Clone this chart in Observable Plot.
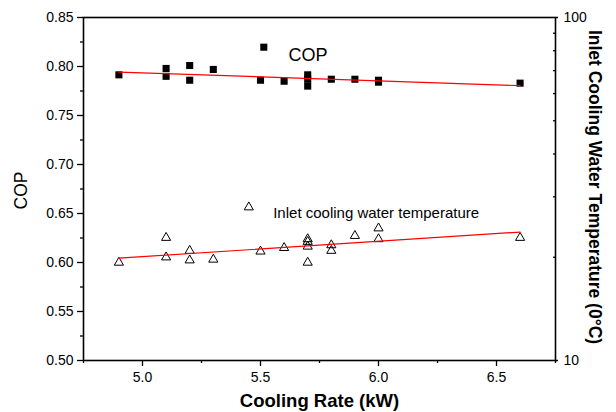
<!DOCTYPE html>
<html><head><meta charset="utf-8">
<script src="https://cdn.jsdelivr.net/npm/d3@7"></script>
<script src="https://cdn.jsdelivr.net/npm/@observablehq/plot@0.6"></script>
<style>body{margin:0;background:#fff} svg{font-family:"Liberation Sans",Arial,sans-serif}</style>
</head><body><div id="chart"></div>
<script>
// COP series (left axis)
const copRate  = [4.9, 5.1, 5.1, 5.2, 5.2, 5.3, 5.5, 5.6, 5.7, 5.7, 5.7, 5.8, 5.9, 6.0, 6.0, 6.6];
const copValue = [0.7915, 0.798, 0.790, 0.801, 0.786, 0.797, 0.786, 0.785, 0.7915, 0.787, 0.780, 0.787, 0.787, 0.786, 0.784, 0.783];
// Inlet cooling water temperature series (right axis, log scale, °C)
const tempRate  = [4.9, 5.1, 5.1, 5.2, 5.2, 5.3, 5.5, 5.6, 5.7, 5.7, 5.7, 5.7, 5.8, 5.8, 5.9, 6.0, 6.0, 6.6];
const tempValue = [19.3, 22.8, 20.0, 20.9, 19.6, 19.7, 20.8, 21.3, 22.6, 22.2, 21.5, 19.3, 21.7, 20.9, 23.1, 24.3, 22.6, 22.8];
// ticks
const xTicks = [5.0, 5.5, 6.0, 6.5];
const xMinor = [4.75, 5.25, 5.75, 6.25, 6.75];
const yTicks = [0.50, 0.55, 0.60, 0.65, 0.70, 0.75, 0.80, 0.85];
const yMinor = [0.525, 0.575, 0.625, 0.675, 0.725, 0.775, 0.825];
const rightMajor = [10, 100];
const rightMinor = [20, 30, 40, 50, 60, 70, 80, 90];
const xDomain = [4.75, 6.75];
const yDomain = [0.50, 0.85];
const rightDomain = [10, 100];
const xTitle = "Cooling Rate (kW)";
const yTitle = "COP";
const rightTitle = "Inlet Cooling Water Temperature (0\u00B0C)";
const legendCop = "COP";
const legendTemp = "Inlet cooling water temperature";

// map the right (log) axis onto the left COP coordinate
const toCop = d3.scaleLog().domain(rightDomain).range(yDomain);

const copData = copRate.map((r, i) => ({rate: r, cop: copValue[i]}));
const tempData = tempRate.map((r, i) => ({rate: r, y: toCop(tempValue[i])}));

const chart = Plot.plot({
  width: 616,
  height: 412,
  marginLeft: 83,
  marginRight: 61,
  marginTop: 17,
  marginBottom: 52,
  style: {fontFamily: '"Liberation Sans", Arial, sans-serif', color: "#000", background: "#fff"},
  x: {domain: xDomain},
  y: {domain: yDomain},
  marks: [
    Plot.frame({stroke: "#000", strokeWidth: 1.6}),
    Plot.axisX(xTicks, {tickSize: 6, tickPadding: 6, tickFormat: d3.format(".1f"), fontSize: 14, label: null, strokeWidth: 1.3}),
    Plot.axisX(xMinor, {tickSize: 3, tickFormat: () => "", label: null, strokeWidth: 1.3}),
    Plot.axisY(yTicks, {anchor: "left", tickSize: 6, tickPadding: 4, tickFormat: d3.format(".2f"), fontSize: 14, label: null, strokeWidth: 1.3}),
    Plot.axisY(yMinor, {anchor: "left", tickSize: 3, tickFormat: () => "", label: null, strokeWidth: 1.3}),
    Plot.axisY(rightMajor.map(toCop), {anchor: "right", tickSize: 2, tickPadding: 6, tickFormat: d => String(Math.round(toCop.invert(d))), fontSize: 14, label: null, strokeWidth: 1.3}),
    Plot.axisY(rightMinor.map(toCop), {anchor: "right", tickSize: 3, insetRight: 3, tickFormat: () => "", label: null, strokeWidth: 1.3}),
    Plot.dot(copData, {x: "rate", y: "cop", symbol: "square", fill: "#000", r: 4}),
    Plot.dot(tempData, {x: "rate", y: "y", symbol: "triangle", stroke: "#000", fill: "none", r: 3.4, strokeWidth: 1}),
    Plot.linearRegressionY(copData, {x: "rate", y: "cop", stroke: "#f00", ci: 0, strokeWidth: 1.2}),
    Plot.linearRegressionY(tempData, {x: "rate", y: "y", stroke: "#f00", ci: 0, strokeWidth: 1.2}),
    // legend
    Plot.dot([legendCop], {x: null, y: null, frameAnchor: "top-left", dx: 180.3, dy: 29.7, symbol: "square", fill: "#000", r: 4}),
    Plot.text([legendCop], {x: null, y: null, text: d => d, frameAnchor: "top-left", dx: 205, dy: 30.5, textAnchor: "start", fontSize: 18, fill: "#000"}),
    Plot.dot([legendTemp], {x: null, y: null, frameAnchor: "top-left", dx: 165.3, dy: 189.7, symbol: "triangle", stroke: "#000", fill: "none", r: 3.4, strokeWidth: 1}),
    Plot.text([legendTemp], {x: null, y: null, text: d => d, frameAnchor: "top-left", dx: 189.7, dy: 190, textAnchor: "start", fontSize: 15, fill: "#000"}),
    // axis titles
    Plot.text([yTitle], {x: null, y: null, text: d => d, frameAnchor: "left", textAnchor: "middle", dx: -62.5, dy: 1.5, rotate: -90, fontSize: 17.5, fill: "#000"}),
    Plot.text([rightTitle], {x: null, y: null, text: d => d, frameAnchor: "right", textAnchor: "middle", dx: 39.5, dy: -2, rotate: 90, fontSize: 17.5, fontWeight: "bold", fill: "#000"}),
    Plot.text([xTitle], {x: null, y: null, text: d => d, frameAnchor: "bottom", dy: 46, fontSize: 18.5, fontWeight: "bold", fill: "#000"})
  ]
});
document.getElementById("chart").appendChild(chart);
</script>
</body></html>
